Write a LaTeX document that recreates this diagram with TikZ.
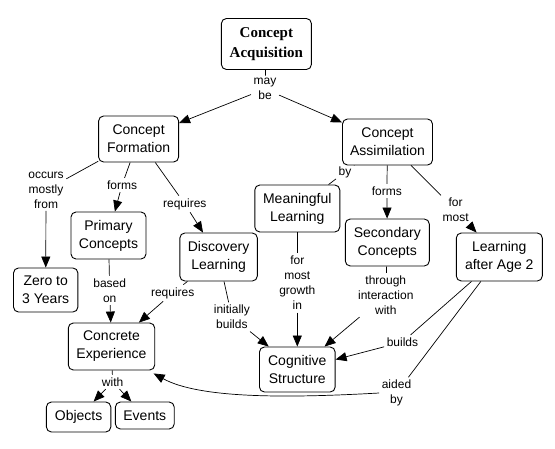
\documentclass[tikz,border=0pt]{standalone}
\usepackage{fontspec}
\setmainfont{Liberation Sans}
\newfontfamily\ttlfont{Liberation Serif}
\usetikzlibrary{arrows.meta}
\begin{document}
\begin{tikzpicture}[x=1pt,y=-1pt,
 cbox/.style={draw, rounded corners=5pt, line width=0.9pt, align=center, inner sep=0pt, font=\fontsize{14}{18}\selectfont},
 lbl/.style={align=center, inner sep=2.5pt, font=\fontsize{12}{15}\selectfont},
 arr/.style={-{Triangle[length=11pt,width=9pt]}},
 conn/.style={line width=0.7pt}]
\useasboundingbox (0,0) rectangle (555,448);
% concepts
\node[cbox, minimum width=90pt, minimum height=51pt, font=\ttlfont\fontsize{15}{20}\selectfont\bfseries] (ca) at (266.4,44) {Concept\\Acquisition};
\node[cbox, minimum width=80pt, minimum height=46pt] (cf) at (138.6,139) {Concept\\Formation};
\node[cbox, minimum width=90pt, minimum height=46pt] (cas) at (387.5,142) {Concept\\Assimilation};
\node[cbox, minimum width=85pt, minimum height=47pt] (ml) at (297.3,208.5) {Meaningful\\Learning};
\node[cbox, minimum width=75pt, minimum height=47pt] (pc) at (108.5,235.5) {Primary\\Concepts};
\node[cbox, minimum width=77.5pt, minimum height=48pt] (dl) at (218.6,257) {Discovery\\Learning};
\node[cbox, minimum width=84pt, minimum height=47pt] (sc) at (387.3,242.5) {Secondary\\Concepts};
\node[cbox, minimum width=86pt, minimum height=48pt] (la) at (499.3,257) {Learning\\after Age 2};
\node[cbox, minimum width=64.4pt, minimum height=44pt] (zy) at (45.7,290) {Zero to\\3 Years};
\node[cbox, minimum width=86.4pt, minimum height=47pt] (ce) at (111.5,346.5) {Concrete\\Experience};
\node[cbox, minimum width=75.7pt, minimum height=45pt] (cs) at (297.3,369.5) {Cognitive\\Structure};
\node[cbox, minimum width=64.4pt, minimum height=30pt] (ob) at (78.6,417) {Objects};
\node[cbox, minimum width=58.8pt, minimum height=27pt] (ev) at (144.8,415.5) {Events};
% linking phrases
\node[lbl] (l1) at (265,89) {may\\be};
\node[lbl] (l2) at (46,190) {occurs\\mostly\\from};
\node[lbl] (l3) at (122,185) {forms};
\node[lbl] (l4) at (184.8,204) {requires};
\node[lbl] (l5) at (345,172) {by};
\node[lbl] (l6) at (386.9,191) {forms};
\node[lbl] (l7) at (455.6,210) {for\\most};
\node[lbl] (l8) at (297.3,283) {for\\most\\growth\\in};
\node[lbl] (l9) at (385.8,295) {through\\interaction\\with};
\node[lbl] (l10) at (231.9,317) {initially\\builds};
\node[lbl] (l11) at (172.7,293) {requires};
\node[lbl] (l12) at (109.7,290.5) {based\\on};
\node[lbl] (l13) at (112.6,382) {with};
\node[lbl] (l14) at (402.5,342) {builds};
\node[lbl] (l15) at (396.5,393) {aided\\by};
% connectors
\draw[conn] (ca) -- (l1);
\draw[conn,arr] (l1) -- (cf);
\draw[conn,arr] (l1) -- (cas);
\draw[conn] (cf) -- (l2);
\draw[conn,arr] (l2) -- (zy);
\draw[conn] (cf) -- (l3);
\draw[conn,arr] (l3) -- (pc);
\draw[conn] (cf) -- (l4);
\draw[conn,arr] (l4) -- (dl);
\draw[conn] (cas) -- (l5);
\draw[conn] (l5) -- (ml);
\draw[conn] (cas) -- (l6);
\draw[conn,arr] (l6) -- (sc);
\draw[conn] (cas) -- (l7);
\draw[conn,arr] (l7) -- (la);
\draw[conn] (ml) -- (l8);
\draw[conn,arr] (l8) -- (cs);
\draw[conn] (sc) -- (l9);
\draw[conn,arr] (l9) -- (cs);
\draw[conn] (dl) -- (l10);
\draw[conn,arr] (l10) -- (cs);
\draw[conn] (dl) -- (l11);
\draw[conn,arr] (l11) -- (ce);
\draw[conn] (pc) -- (l12);
\draw[conn,arr] (l12) -- (ce);
\draw[conn] (ce) -- (l13);
\draw[conn,arr] (l13) -- (ob);
\draw[conn,arr] (l13) -- (ev);
\draw[conn] (la) -- (l14);
\draw[conn,arr] (l14) -- (cs);
\draw[conn] (la) -- (l15);
\draw[conn,arr] (l15.west) .. controls (290,398) and (200,399) .. ([xshift=-1.5pt,yshift=-3pt]ce.south east);
\end{tikzpicture}
\end{document}
